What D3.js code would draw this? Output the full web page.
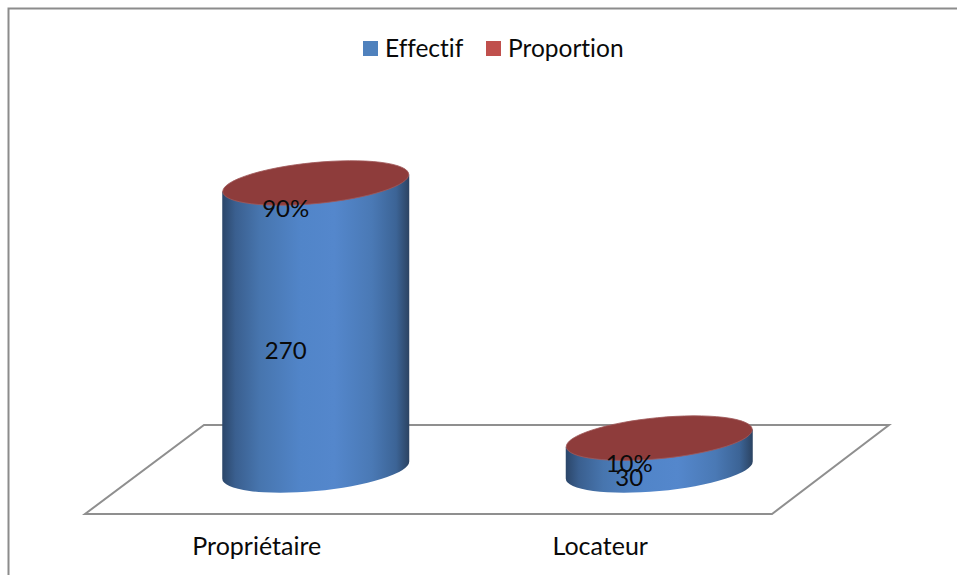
<!DOCTYPE html>
<html>
<head>
<meta charset="utf-8">
<script src="https://cdn.jsdelivr.net/npm/d3@7"></script>
<style>
  html, body { margin: 0; padding: 0; background: #fff; }
  svg { display: block; }
  text { font-family: Lato, "Open Sans", sans-serif; fill: #0a0a0a; font-variant-ligatures: none; }
</style>
</head>
<body>
<div id="chart"></div>
<script>
const categories = ["Propriétaire", "Locateur"];
const effectif = [270, 30];
const proportion = ["90%", "10%"];
const seriesNames = ["Effectif", "Proportion"];
const seriesColors = ["#4f81bd", "#c0504d"];

const width = 957, height = 575;
const svg = d3.select("#chart").append("svg").attr("width", width).attr("height", height);

const x = d3.scaleBand().domain(categories).range([144, 831]);
const y = d3.scaleLinear().domain([0, 270]).range([470, 183]);

// Cylinder cross-section: a slightly tilted ellipse
const halfWidth = 93.5, ry = 21, tilt = -5.5;
const t = Math.abs(tilt) * Math.PI / 180;
const rx = Math.sqrt((halfWidth ** 2 - (ry * Math.sin(t)) ** 2) / Math.cos(t) ** 2);
const edgeDy = (rx * rx - ry * ry) * Math.sin(t) * Math.cos(t) / halfWidth;

// Shading across the cylinder wall
const defs = svg.append("defs");
const grad = defs.append("linearGradient").attr("id", "wall");
[[0, "#2b4669"], [0.07, "#3a5f8f"], [0.2, "#4775ae"], [0.42, "#5185c9"], [0.6, "#5487cc"],
 [0.8, "#4a79b5"], [0.93, "#3c6496"], [1, "#2b4362"]]
  .forEach(([o, c]) => grad.append("stop").attr("offset", o).attr("stop-color", c));

// Chart frame, open towards the right and the bottom
svg.append("path")
  .attr("d", d3.line()([[8.5, height], [8.5, 8.5], [width, 8.5]]))
  .attr("fill", "none").attr("stroke", "#8c8c8c").attr("stroke-width", 2);

// Floor of the 3D plot
svg.append("path")
  .attr("d", d3.line()([[85, 514], [772, 514], [889, 425], [204, 425]]) + "Z")
  .attr("fill", "#fff").attr("stroke", "#8f8f8f").attr("stroke-width", 2);

// Legend
const legendX = [363, 486];
const legend = svg.append("g").selectAll("g").data(seriesNames).join("g")
  .attr("transform", (d, i) => `translate(${legendX[i]},41)`);
legend.append("rect").attr("width", 15).attr("height", 15)
  .attr("fill", (d, i) => seriesColors[i]);
legend.append("text").attr("x", 22).attr("y", 15.5)
  .attr("font-size", 24.5).text(d => d);

// Cylinders
const bars = svg.append("g").selectAll("g").data(categories).join("g");
bars.append("path")
  .attr("fill", "url(#wall)")
  .attr("d", (d, i) => {
    const cx = x(d) + x.bandwidth() / 2, top = y(effectif[i]), base = y(0);
    const xl = cx - halfWidth, xr = cx + halfWidth;
    return `M${xl},${top + edgeDy}L${xl},${base + edgeDy}` +
      `A${rx},${ry} ${tilt} 0 0 ${xr},${base - edgeDy}` +
      `L${xr},${top - edgeDy}Z`;
  });
bars.append("ellipse")
  .attr("rx", rx - 0.5).attr("ry", ry - 0.5)
  .attr("fill", "#8e3c3b")
  .attr("stroke", "#a0595a").attr("stroke-width", 0.8)
  .attr("transform", (d, i) =>
    `translate(${x(d) + x.bandwidth() / 2},${y(effectif[i])}) rotate(${tilt})`);

// Value labels sit left of the cylinder axis, a little below its mid-height
const labelShift = -30;
bars.append("text").attr("text-anchor", "middle").attr("font-size", 24)
  .attr("x", d => x(d) + x.bandwidth() / 2 + labelShift)
  .attr("y", (d, i) => y(effectif[i] / 2) + 32)
  .text((d, i) => effectif[i]);
bars.append("text").attr("text-anchor", "middle").attr("font-size", 24)
  .attr("x", d => x(d) + x.bandwidth() / 2 + labelShift)
  .attr("y", (d, i) => y(effectif[i]) + 33.5)
  .text((d, i) => proportion[i]);

// Category labels
svg.append("g").selectAll("text").data(categories).join("text")
  .attr("text-anchor", "middle").attr("font-size", 25)
  .attr("x", d => x(d) + x.bandwidth() / 2 - 59)
  .attr("y", 555)
  .text(d => d);
</script>
</body>
</html>
